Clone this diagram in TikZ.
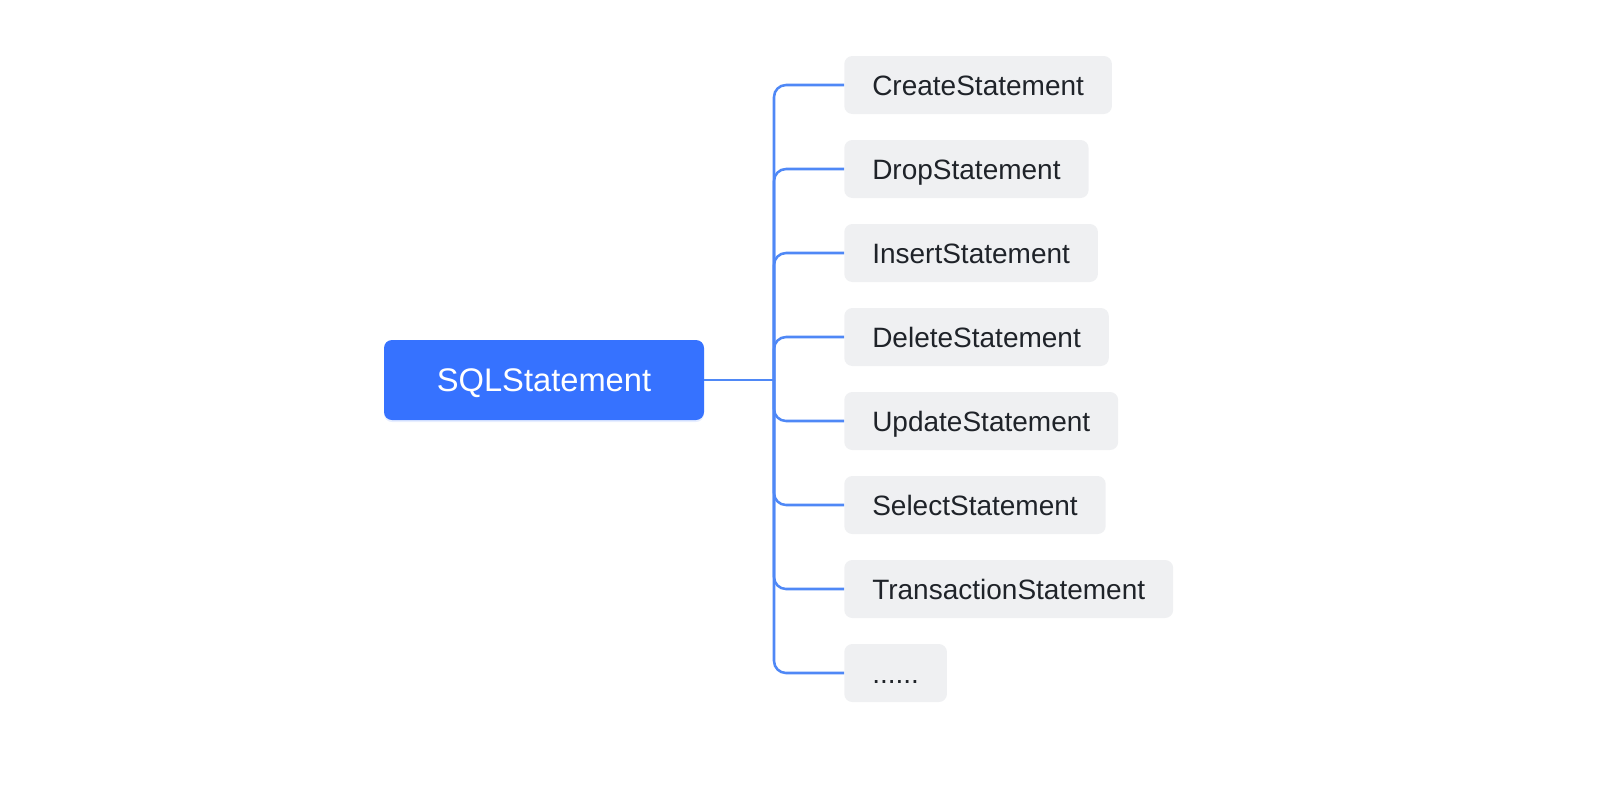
\documentclass[tikz,border=0pt]{standalone}
\usepackage{fontspec}
\setmainfont{Liberation Sans}
\usepackage{xcolor}
\usetikzlibrary{positioning,shadows}

\definecolor{rootblue}{HTML}{3672FF}
\definecolor{linkblue}{HTML}{4F88F6}
\definecolor{leafgray}{HTML}{EFF0F2}
\definecolor{leaftext}{HTML}{1F2329}
\newcommand{\moredots}{......}

\begin{document}
\begin{tikzpicture}[x=0.75pt,y=-0.75pt,
  root/.style={rectangle,rounded corners=6pt,fill=rootblue,text=white,
    minimum width=240pt,minimum height=60pt,text height=17.5pt,text depth=0pt,
    drop shadow={shadow xshift=0pt,shadow yshift=-1.5pt,opacity=0.12,fill=rootblue},
    font=\fontsize{24.5}{29}\selectfont},
  leaf/.style={rectangle,rounded corners=6pt,fill=leafgray,text=leaftext,anchor=west,
    inner xsep=21pt,minimum height=43.5pt,text height=15pt,text depth=0pt,
    font=\fontsize{21}{25}\selectfont},
  link/.style={draw=linkblue,line width=1.9pt,rounded corners=9pt}]
  \useasboundingbox (0,0) rectangle (1612,786);
  \node[root] (sql) at (544,380) {SQLStatement};
  \coordinate (fork) at (774,380);
  \draw[link] (sql.east) -- (fork);
  \foreach \lbl/\nm [count=\i] in {CreateStatement/create, DropStatement/drop,
      InsertStatement/insert, DeleteStatement/delete, UpdateStatement/update,
      SelectStatement/select, TransactionStatement/transaction, \moredots/more}
  {
    \node[leaf] (\nm) at (844,{85+84*(\i-1)}) {\lbl};
    \draw[link] (fork) |- (\nm.west);
  }
\end{tikzpicture}
\end{document}
